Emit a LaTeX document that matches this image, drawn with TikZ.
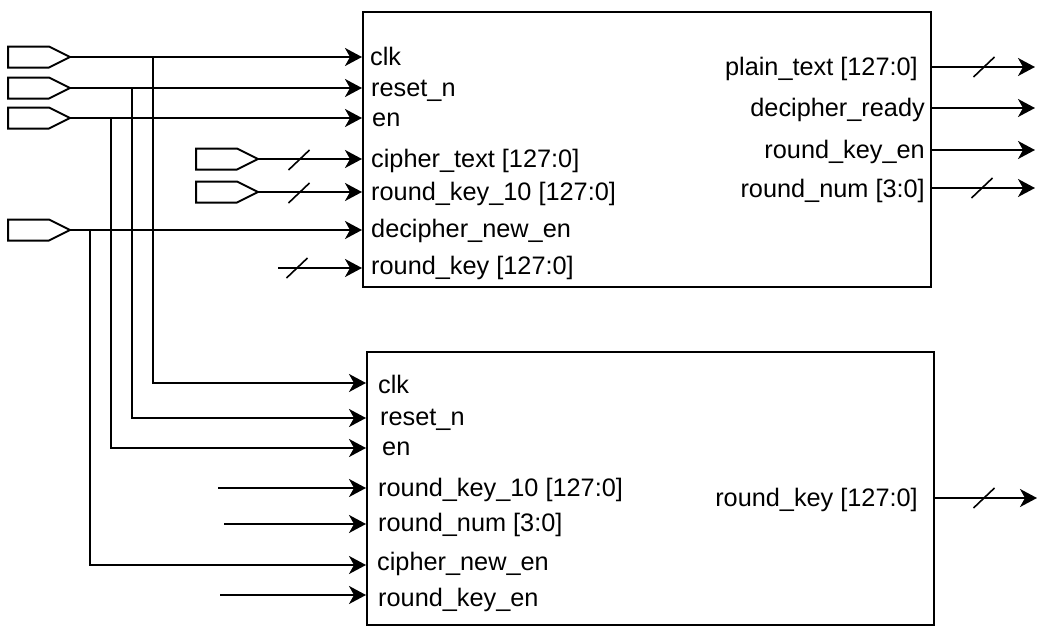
\documentclass[tikz,border=0pt]{standalone}
\usepackage{fontspec}
\setmainfont{Liberation Sans}
\usetikzlibrary{arrows.meta}
\tikzset{
  sig/.style={line width=2pt,-{Stealth[length=17pt,width=18pt,inset=5pt]}},
  wire/.style={line width=2pt},
  portshape/.style={line width=2pt,fill=white,line join=miter},
  lbl/.style={inner sep=0pt,yshift=-6pt,font=\fontsize{25.3}{30}\selectfont},
  box/.style={draw,line width=2pt,inner sep=0pt},
  slashmark/.style={line width=1.6pt},
  inport/.pic={\draw[portshape] (-62,-10.5) -- (-21,-10.5) -- (0,0) -- (-21,10.5) -- (-62,10.5) -- cycle;}
}
\begin{document}
\begin{tikzpicture}[x=1pt,y=-1pt]
\useasboundingbox (0,0) rectangle (1045,632);
% boxes
\node[box,anchor=north west,minimum width=568pt,minimum height=275pt] (B1) at (362,11) {};
\node[box,anchor=north west,minimum width=567pt,minimum height=273pt] (B2) at (366,351) {};
% input ports
\pic at (70,57) {inport};  \coordinate (P1) at (70,57);
\pic at (70,88) {inport};  \coordinate (P2) at (70,88);
\pic at (70,118) {inport}; \coordinate (P3) at (70,118);
\pic at (70,230) {inport}; \coordinate (P4) at (70,230);
\pic at (258,159) {inport}; \coordinate (Q1) at (258,159);
\pic at (258,192) {inport}; \coordinate (Q2) at (258,192);
% labels box 1
\node[lbl,anchor=mid west] (a1) at (370,57) {clk};
\node[lbl,anchor=mid west] (a2) at (371,88) {reset\_n};
\node[lbl,anchor=mid west] (a3) at (372,118) {en};
\node[lbl,anchor=mid west] (a4) at (371,159) {cipher\_text [127:0]};
\node[lbl,anchor=mid west] (a5) at (371,192) {round\_key\_10 [127:0]};
\node[lbl,anchor=mid west] (a6) at (371,229) {decipher\_new\_en};
\node[lbl,anchor=mid west] (a7) at (371,266) {round\_key [127:0]};
\node[lbl,anchor=mid east] (b1) at (918,67) {plain\_text [127:0]};
\node[lbl,anchor=mid east] (b2) at (925,108) {decipher\_ready};
\node[lbl,anchor=mid east] (b3) at (925,150) {round\_key\_en};
\node[lbl,anchor=mid east] (b4) at (925,189) {round\_num [3:0]};
% labels box 2
\node[lbl,anchor=mid west] (c1) at (378,385) {clk};
\node[lbl,anchor=mid west] (c2) at (380,417) {reset\_n};
\node[lbl,anchor=mid west] (c3) at (382,447) {en};
\node[lbl,anchor=mid west] (c4) at (378,488) {round\_key\_10 [127:0]};
\node[lbl,anchor=mid west] (c5) at (378,523) {round\_num [3:0]};
\node[lbl,anchor=mid west] (c6) at (377,562) {cipher\_new\_en};
\node[lbl,anchor=mid west] (c7) at (378,598) {round\_key\_en};
\node[lbl,anchor=mid east] (d1) at (918,498) {round\_key [127:0]};
% free ends
\coordinate (s7) at (278,268);
\coordinate (f4) at (218,488);
\coordinate (f5) at (224,524);
\coordinate (f7) at (220,595);
\coordinate (o1) at (1035,67);
\coordinate (o2) at (1035,108);
\coordinate (o3) at (1035,150);
\coordinate (o4) at (1035,188);
\coordinate (o5) at (1037,498);
% box 1 inputs
\draw[sig] (P1) -- (B1.west |- P1);
\draw[sig] (P2) -- (B1.west |- P2);
\draw[sig] (P3) -- (B1.west |- P3);
\draw[sig] (Q1) -- (B1.west |- Q1);
\draw[sig] (Q2) -- (B1.west |- Q2);
\draw[sig] (P4) -- (B1.west |- P4);
\draw[sig] (s7) -- (B1.west |- s7);
% box 1 outputs
\draw[sig] (B1.east |- o1) -- (o1);
\draw[sig] (B1.east |- o2) -- (o2);
\draw[sig] (B1.east |- o3) -- (o3);
\draw[sig] (B1.east |- o4) -- (o4);
% box 2 inputs
\draw[sig] (P1 -| 153,0) |- (B2.west |- 0,383);
\draw[sig] (P2 -| 132,0) |- (B2.west |- 0,418);
\draw[sig] (P3 -| 111,0) |- (B2.west |- 0,448);
\draw[sig] (P4 -| 90,0) |- (B2.west |- 0,565);
\draw[sig] (f4) -- (B2.west |- f4);
\draw[sig] (f5) -- (B2.west |- f5);
\draw[sig] (f7) -- (B2.west |- f7);
% box 2 output
\draw[sig] (B2.east |- o5) -- (o5);
% bus slashes
\foreach \p in {(299,160),(299,193),(297,268),(984,67),(982,188),(984,498)}{
  \draw[slashmark] \p ++(-10.5,10) -- ++(21,-20);
}
\end{tikzpicture}
\end{document}
